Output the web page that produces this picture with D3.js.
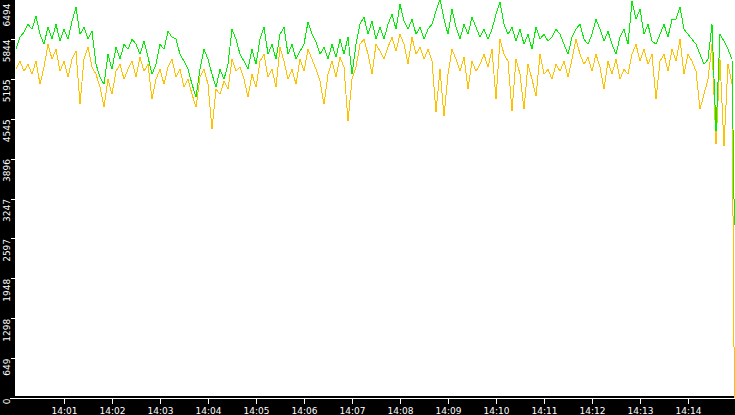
<!DOCTYPE html>
<html>
<head>
<meta charset="utf-8">
<script src="https://cdn.jsdelivr.net/npm/d3@7"></script>
<style>
  html, body { margin: 0; padding: 0; background: #000; }
  svg { display: block; }
  .axis text { fill: #fff; font-family: "DejaVu Sans", sans-serif; font-size: 9px; }
  .axis line, .axis path { stroke: #fff; shape-rendering: crispEdges; }
  .series { fill: none; stroke-width: 1; shape-rendering: crispEdges; }
</style>
</head>
<body>
<div id="chart"></div>
<script>
// samples are 5 s apart starting at 14:00:00, last sample is the drop at the end
const startTime = new Date(2020, 0, 1, 14, 0, 0);
const stepSeconds = 5;
const lastSampleSecond = 898;
const endTime = new Date(2020, 0, 1, 14, 15, 0);

const yMax = 6494;
const yTickLabels = ['0', '649', '1298', '1948', '2597', '3247', '3896', '4545', '5195', '5844', '6494'];
const xTickLabels = ['14:01', '14:02', '14:03', '14:04', '14:05', '14:06', '14:07',
                     '14:08', '14:09', '14:10', '14:11', '14:12', '14:13', '14:14'];

const greenValues = [
  5677, 5873, 5954, 6084, 6003, 6215, 5921, 5759, 6036, 5840,
  6084, 5807, 6003, 5840, 6133, 6362, 5921, 6036, 5840, 5970,
  5433, 5221, 5107, 5596, 5351, 5710, 5514, 5759, 5677, 5840,
  5759, 5596, 5807, 5547, 5270, 5433, 5759, 5677, 5970, 5873,
  5840, 5596, 5481, 5351, 5107, 4895, 5351, 5677, 5514, 5270,
  5058, 5351, 5188, 5433, 6003, 5840, 5596, 5481, 5351, 5677,
  5433, 5840, 6036, 5596, 5759, 5514, 5921, 6036, 5596, 5759,
  5514, 5644, 5759, 6117, 5921, 5791, 5596, 5710, 5514, 5759,
  5547, 5840, 5596, 5873, 5270, 5759, 6084, 6199, 5921, 6133,
  5840, 6036, 5840, 6084, 6247, 6003, 6410, 6133, 6003, 6166,
  5921, 6036, 5840, 6003, 6084, 6296, 6492, 6166, 5921, 6329,
  6036, 5840, 6084, 5921, 6199, 6036, 5873, 6003, 5840, 6003,
  6247, 6443, 6084, 5921, 6036, 5807, 6003, 5759, 5921, 5677,
  6036, 5840, 5921, 5807, 5873, 6003, 5921, 5759, 5596, 5873,
  6003, 6084, 5840, 5759, 5921, 6166, 6003, 5807, 5970, 5759,
  5596, 5873, 6003, 5759, 6459, 6166, 6329, 5921, 6084, 5807,
  5759, 5921, 6084, 5873, 6166, 6166, 6362, 6003, 5921, 5840,
  5759, 5596, 5433, 5514, 6084, 4340, 5921, 5807, 5677, 5514,
  2808
];

const orangeValues = [
  5351, 5481, 5318, 5433, 5270, 5481, 5107, 5384, 5759, 5514,
  5677, 5318, 5481, 5221, 5514, 5644, 4781, 5514, 5710, 5384,
  5270, 5058, 4732, 5188, 4944, 5318, 5433, 5188, 5351, 5481,
  5221, 5547, 5318, 5433, 4862, 5188, 5351, 5107, 5384, 5514,
  5221, 5351, 5058, 5188, 4944, 4732, 5221, 5351, 5107, 4373,
  5025, 4944, 5155, 5025, 5514, 5318, 5384, 5188, 4895, 5270,
  5058, 5481, 5596, 5221, 5351, 5058, 5710, 5481, 5188, 5351,
  5107, 5514, 5318, 5677, 5514, 5351, 5155, 4781, 5270, 5481,
  5221, 5547, 5384, 4503, 5188, 5384, 5759, 5840, 5596, 5270,
  5759, 5644, 5514, 5710, 5873, 5644, 5921, 5759, 5433, 5873,
  5596, 5710, 5514, 5677, 5481, 4650, 5351, 4585, 5270, 5677,
  5514, 5318, 5547, 5025, 5481, 5318, 5433, 5596, 5384, 5677,
  4862, 5840, 5596, 5481, 4666, 5514, 5270, 4699, 5433, 5188,
  4911, 5596, 5270, 5351, 5188, 5433, 5318, 5481, 5221, 5514,
  5840, 5596, 5433, 5547, 5318, 5596, 5384, 5025, 5481, 5270,
  5514, 5188, 5351, 5270, 5596, 5759, 5481, 5677, 5433, 5596,
  4862, 5481, 5596, 5318, 5677, 5481, 5840, 5270, 5596, 5481,
  5318, 4699, 4944, 5188, 5759, 4129, 5514, 4096, 5433, 5107,
  0
];

const seriesColors = { green: '#00ee00', orange: '#ffc000' };

// timestamp of sample i
function sampleTime(i, n) {
  const sec = i === n - 1 ? lastSampleSecond : i * stepSeconds;
  return new Date(startTime.getTime() + sec * 1000);
}

const width = 735, height = 415;
const margin = { top: 0, right: 0, bottom: 18, left: 15 };

const svg = d3.select('#chart').append('svg')
  .attr('width', width)
  .attr('height', height);

svg.append('rect')
  .attr('width', width).attr('height', height)
  .attr('fill', '#000');

const plotBottom = 396;
// white plot area
svg.append('rect')
  .attr('x', margin.left).attr('y', 0)
  .attr('width', width - margin.left).attr('height', plotBottom)
  .attr('fill', '#fff');

const xScale = d3.scaleTime()
  .domain([startTime, endTime])
  .range([margin.left + 1, margin.left + 1 + 720]);

const yScale = d3.scaleLinear()
  .domain([0, yMax])
  .range([398, -1]);

const makeRows = vals => vals.map((v, i) => ({ t: sampleTime(i, vals.length), v: v }));

const line = d3.line()
  .x(d => xScale(d.t))
  .y(d => yScale(d.v));

const plot = svg.append('g');

plot.append('path')
  .datum(makeRows(orangeValues))
  .attr('class', 'series')
  .attr('stroke', seriesColors.orange)
  .attr('d', line);

plot.append('path')
  .datum(makeRows(greenValues))
  .attr('class', 'series')
  .attr('stroke', seriesColors.green)
  .attr('d', line);

// x axis
const xTicks = xTickLabels.map(s => {
  const p = s.split(':');
  return new Date(2020, 0, 1, +p[0], +p[1], 0);
});

const xAxis = d3.axisBottom(xScale)
  .tickValues(xTicks)
  .tickFormat(d3.timeFormat('%H:%M'))
  .tickSize(6)
  .tickPadding(4)
  .tickSizeOuter(0);

svg.append('g')
  .attr('class', 'axis x-axis')
  .attr('transform', 'translate(0, 397.5)')
  .call(xAxis)
  .call(g => g.select('.domain').attr('d', `M10,0.5H${width}`));

// y axis, labels rotated and hanging below each tick
const yTicks = yTickLabels.map(Number);

const yAxis = d3.axisLeft(yScale)
  .tickValues(yTicks)
  .tickFormat((d, i) => yTickLabels[i])
  .tickSize(5)
  .tickSizeOuter(0);

const yAxisG = svg.append('g')
  .attr('class', 'axis y-axis')
  .attr('transform', `translate(${margin.left + 0.5}, 0)`)
  .call(yAxis);

yAxisG.select('.domain').remove();
yAxisG.selectAll('.tick').each(function(d) {
  const ty = yScale(d);
  const shift = ty < 3 ? 3 - ty : 0;
  d3.select(this).select('text')
    .attr('text-anchor', 'end')
    .attr('dy', null)
    .attr('x', -shift)
    .attr('y', -6)
    .attr('transform', 'rotate(-90)');
});
</script>
</body>
</html>
